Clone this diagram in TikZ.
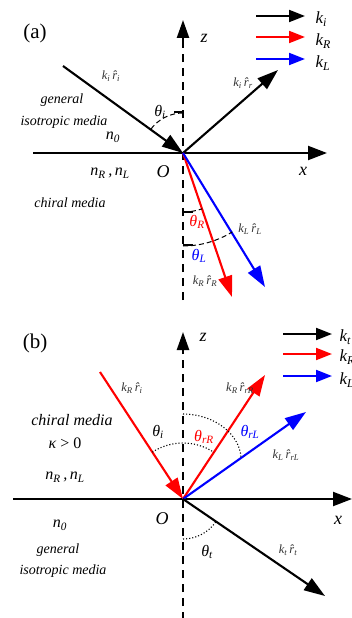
\documentclass[tikz,border=0pt]{standalone}
\usepackage{fontspec}
\setmainfont{Liberation Serif}
\usetikzlibrary{arrows.meta}
\newcommand{\sbs}[1]{\textsubscript{\itshape #1}}
\newcommand{\rh}{\^{r}}
\tikzset{
  ray/.style={line width=2.1pt,-{Triangle[length=21pt,width=14pt]}},
  axisarrow/.style={line width=2.1pt,-{Triangle[length=19pt,width=14pt]}},
  zdash/.style={line width=2.4pt,dash pattern=on 8pt off 6pt},
  zhead/.style={line width=2.4pt,-{Triangle[length=18pt,width=12pt]}},
  legarrow/.style={line width=2pt,-{Triangle[length=16pt,width=12pt]}},
  dasharc/.style={line width=1pt,dash pattern=on 5pt off 3pt},
  dotarc/.style={line width=1.1pt,dotted},
  tickmark/.style={line width=1.4pt},
  big/.style={font=\fontsize{21}{24}\selectfont},
  axlbl/.style={font=\fontsize{18}{20}\selectfont\itshape},
  medlbl/.style={font=\fontsize{16}{18}\selectfont\itshape},
  smalllbl/.style={font=\fontsize{14}{16}\selectfont\itshape},
  klbl/.style={font=\fontsize{12.5}{14}\selectfont\itshape, text=black!80},
  leglbl/.style={font=\fontsize{17}{18}\selectfont\itshape, anchor=west},
}
\begin{document}
\begin{tikzpicture}[x=1pt,y=-1pt]
\useasboundingbox (0,0) rectangle (352,618);
\fill[white] (0,0) rectangle (352,618);

%%%%%%%% panel (a)
\coordinate (Oa) at (183,153);
\coordinate (Ia) at (63,66);
\coordinate (Ra) at (278,70);
\coordinate (RRa) at (232,297);
\coordinate (RLa) at (265,287);
\coordinate (XaL) at (33,153);
\coordinate (XaR) at (327,153);
\coordinate (ZaT) at (183,20);
\coordinate (ZaM) at (183,42);
\coordinate (ZaB) at (183,300);

\draw[zdash] (ZaB) -- (ZaM);
\draw[zhead] (ZaM) -- (ZaT);
\draw[axisarrow] (XaL) -- (XaR);
\draw[ray] (Ia) -- (Oa);
\draw[ray] (Oa) -- (Ra);
\draw[ray,red] (Oa) -- (RRa);
\draw[ray,blue] (Oa) -- (RLa);

\draw[dasharc] (Oa) ++(-90:40) arc[start angle=-90,end angle=-144,radius=40];
\draw[tickmark] (Oa) ++(0,-41) -- ++(-9,0);
\draw[dasharc] (Oa) ++(90:59) arc[start angle=90,end angle=71,radius=59];
\draw[tickmark] (Oa) ++(0,59) -- ++(10,0);
\draw[dasharc] (Oa) ++(90:93) arc[start angle=90,end angle=58,radius=93];
\draw[tickmark] (Oa) ++(0,92) -- ++(10,0);

% legend (a)
\coordinate (LaA1) at (256,16); \coordinate (LaA2) at (305,16);
\coordinate (LaB1) at (256,37); \coordinate (LaB2) at (305,37);
\coordinate (LaC1) at (256,59); \coordinate (LaC2) at (305,59);
\draw[legarrow] (LaA1) -- (LaA2);
\draw[legarrow,red] (LaB1) -- (LaB2);
\draw[legarrow,blue] (LaC1) -- (LaC2);
\node[leglbl] (lka) at (312,19) {k\sbs{i}};
\node[leglbl] (lkra) at (312,41) {k\sbs{R}};
\node[leglbl] (lkla) at (312,63) {k\sbs{L}};

\node[big] (ta) at (35,33) {(a)};
\node[axlbl] (za) at (204,38) {z};
\node[axlbl] (oa) at (163,172) {O};
\node[axlbl] (xa) at (303,171) {x};
\node[klbl] (kia) at (111,76) {k\sbs{i}\,\rh\sbs{i}};
\node[klbl] (kra) at (243,83) {k\sbs{i}\,\rh\sbs{r}};
\node[smalllbl] (gena) at (62,100) {general};
\node[smalllbl] (isoa) at (64,122) {isotropic media};
\node[medlbl] (n0a) at (113,137) {n\sbs{0}};
\node[medlbl] (thia) at (160,112) {θ\sbs{i}};
\node[medlbl] (nrla) at (110,173) {n\sbs{R}\,,\,n\sbs{L}};
\node[smalllbl] (chia) at (70,203) {chiral media};
\node[medlbl,text=red] (thra) at (197,222) {θ\sbs{R}};
\node[medlbl,text=blue] (thla) at (199,256) {θ\sbs{L}};
\node[klbl] (kla) at (250,229) {k\sbs{L}\,\rh\sbs{L}};
\node[klbl] (krra) at (205,281) {k\sbs{R}\,\rh\sbs{R}};

%%%%%%%% panel (b)
\coordinate (Ob) at (183,499);
\coordinate (Ib) at (100,372);
\coordinate (RRb) at (265,375);
\coordinate (RLb) at (306,412);
\coordinate (Tb) at (325,596);
\coordinate (XbL) at (13,499);
\coordinate (XbR) at (352,499);
\coordinate (ZbT) at (183,332);
\coordinate (ZbM) at (183,353);
\coordinate (ZbB) at (183,620);

\draw[zdash] (ZbB) -- (ZbM);
\draw[zhead] (ZbM) -- (ZbT);
\draw[axisarrow] (XbL) -- (XbR);
\draw[ray,red] (Ib) -- (Ob);
\draw[ray,red] (Ob) -- (RRb);
\draw[ray,blue] (Ob) -- (RLb);
\draw[ray] (Ob) -- (Tb);

\draw[dotarc] (Ob) ++(-123.2:56) arc[start angle=-123.2,end angle=-56.5,radius=56];
\draw[dotarc] (183,414) .. controls (214,414) and (240,434) .. (241,458);
\draw[dotarc] (Ob) ++(90:40) arc[start angle=90,end angle=34.3,radius=40];

% legend (b)
\coordinate (LbA1) at (283,334); \coordinate (LbA2) at (332,334);
\coordinate (LbB1) at (283,354); \coordinate (LbB2) at (332,354);
\coordinate (LbC1) at (283,376); \coordinate (LbC2) at (332,376);
\draw[legarrow] (LbA1) -- (LbA2);
\draw[legarrow,red] (LbB1) -- (LbB2);
\draw[legarrow,blue] (LbC1) -- (LbC2);
\node[leglbl] (lkb) at (336,337) {k\sbs{t}};
\node[leglbl] (lkrb) at (336,357) {k\sbs{R}};
\node[leglbl] (lklb) at (336,380) {k\sbs{L}};

\node[big] (tb) at (35,343) {(b)};
\node[axlbl] (zb) at (203,337) {z};
\node[axlbl] (ob) at (162,519) {O};
\node[axlbl] (xb) at (338,520) {x};
\node[klbl] (kib) at (132,388) {k\sbs{R}\,\rh\sbs{i}};
\node[klbl] (krrb) at (240,388) {k\sbs{R}\,\rh\sbs{rR}};
\node[medlbl] (chib) at (72,420) {chiral media};
\node[medlbl,font=\fontsize{16}{18}\selectfont] (kapb) at (65,443) {\textit{κ} > 0};
\node[medlbl] (thib) at (158,432) {θ\sbs{i}};
\node[medlbl,text=red] (thrb) at (204,437) {θ\sbs{rR}};
\node[medlbl,text=blue] (thlb) at (250,432) {θ\sbs{rL}};
\node[klbl] (klb) at (286,455) {k\sbs{L}\,\rh\sbs{rL}};
\node[medlbl] (nrlb) at (65,477) {n\sbs{R}\,,\,n\sbs{L}};
\node[medlbl] (n0b) at (60,525) {n\sbs{0}};
\node[medlbl] (thtb) at (207,552) {θ\sbs{t}};
\node[klbl] (ktb) at (288,550) {k\sbs{t}\,\rh\sbs{t}};
\node[smalllbl] (genb) at (58,550) {general};
\node[smalllbl] (isob) at (63,571) {isotropic media};
\end{tikzpicture}
\end{document}
